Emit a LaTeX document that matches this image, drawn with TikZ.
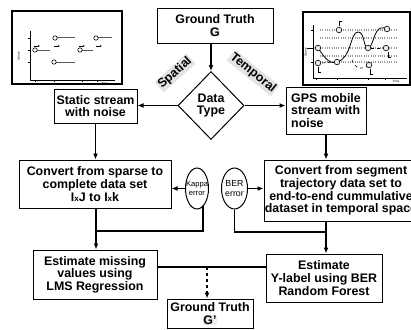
\documentclass[tikz,border=0pt]{standalone}
\usepackage{fontspec}
\setmainfont{Liberation Sans}
\usetikzlibrary{arrows.meta,shapes.geometric,calc}
\newcommand\flowfont{\fontsize{12.4}{12.6}\selectfont\bfseries}
\newcommand\tinyfont{\fontsize{3}{3}\selectfont}
\newcommand\hlmark[1]{{\setlength\fboxsep{0.3pt}\colorbox{gray!14}{#1}}}
\newcommand\smx{{\fontsize{8}{8}\selectfont x}}
\tikzset{
  box/.style={draw, line width=1pt, fill=white, align=center, font=\flowfont, inner sep=0pt},
  dia/.style={draw, diamond, line width=1pt, fill=white, align=center, font=\flowfont,
    inner sep=0pt, minimum width=66, minimum height=68},
  errell/.style={draw, ellipse, line width=1pt, inner sep=0pt, minimum width=23, minimum height=41},
  tag/.style={fill=gray!22, inner sep=1pt, font=\flowfont},
  arr/.style={line width=1.4pt, -{Latex[length=6pt,width=5pt]}},
  link/.style={line width=1.4pt},
  frame/.style={line width=2pt},
  axis/.style={line width=0.6pt},
  dot/.style={draw=black, fill=white, line width=0.6pt},
  seg/.style={gray!70!black, line width=1pt},
  small arrow/.style={line width=0.5pt, -{Latex[length=2pt,width=1.8pt]}},
  grain/.style={gray!80, line width=1.3pt, dash pattern=on 0.9pt off 1.4pt},
}
\begin{document}
\begin{tikzpicture}[x=1pt,y=-1pt]
\useasboundingbox (0,0) rectangle (411,329);
\clip (0,0) rectangle (411,329);

% ---- spatial stream sketch (top left) ----
\draw[frame] (12,11) rectangle (122,84);
\draw[axis] (30,31) -- (30,80) -- (115,80);
\foreach \yy in {38,50,62} \draw[axis] (28,\yy) -- (30,\yy);
\foreach \xx in {35,54,82,97} \draw[axis] (\xx,80) -- (\xx,82);
\node[font=\tinyfont, rotate=90] at (19,56) {Space};
\node[font=\tinyfont] at (105,83) {Time};
\draw[seg] (57,38) -- (75,38);
\draw[seg] (98,38) -- (112,38);
\draw[seg] (37,50) -- (50,50);
\draw[seg] (82,50) -- (93,50);
\draw[seg] (56,62) -- (75,62);
\foreach \p in {(55,38),(96,38),(35,50),(80,50),(54,62)} \draw[dot] \p circle (2.2);
\foreach \xx in {34,54,79,96} \draw[small arrow] (\xx,46) -- ++(6,0);

% ---- temporal stream sketch (top right) ----
\draw[frame] (303,12) rectangle (410,85);
\draw[axis] (313,25) -- (313,78) -- (407,78);
\foreach \xx in {316,337,368,385} \draw[axis] (\xx,78) -- (\xx,80);
\foreach \yy in {30,62} \draw[axis] (311,\yy) -- (313,\yy);
\node[font=\tinyfont, rotate=90] at (306,52) {Space};
\node[font=\tinyfont] at (396,81) {Time};
\foreach \yy in {30,38,48,56,62} \draw[grain] (320,\yy) -- (397,\yy);
\draw[line width=0.8pt] (318,48) .. controls (326,60) and (330,64) .. (337,62)
  .. controls (352,58) and (350,32) .. (358,32)
  .. controls (365,32) and (363,48) .. (368,48)
  .. controls (373,48) and (374,29) .. (381,28)
  .. controls (384,27) and (386,28) .. (387,29);
\draw[line width=0.6pt, dashed] (322,63) -- (334,62);
\draw[line width=0.6pt, dashed] (352,60) .. controls (356,70) and (362,70) .. (369,65);
\draw[line width=0.6pt, dashed] (371,48) -- (383,48);
\draw[small arrow] (307,48) -- (315,48);
\foreach \p in {(318,48),(318,63),(339,30),(337,62),(368,48),(387,29),(386,48),(369,65)}
  \draw[dot, fill=gray!15] \p circle (2.8);
\foreach \p/\d in {(318,67)/1,(339,26)/-1,(388,52)/1,(370,69)/1}
  \draw[line width=0.6pt] \p -- ++(0,\d*5) -- ++(3,0);

% ---- flow chart ----
\node[box, minimum width=116, minimum height=34] (gt) at (215,26) {Ground Truth\\\hlmark{G}};
\node[dia] (dt) at (211,105.5) {Data\\Type};
\node[box, minimum width=83, minimum height=34] (static) at (95.5,106) {Static stream\\with noise};
\node[box, minimum width=80, minimum height=47, align=left] (gps) at (326,110.5) {GPS mobile\\stream with\\noise};
\node[box, minimum width=152, minimum height=48] (sparse) at (95,184)
  {Convert from sparse to\\complete data set\\I\smx J to I\smx k};
\node[box, minimum width=154, minimum height=61] (segbox) at (341,190.5)
  {Convert from segment\\trajectory data set to\\end-to-end cummulative\\dataset in temporal space};
\node[errell] (kappa) at (197,188.5) {};
\node[font=\fontsize{7.6}{8.6}\selectfont, align=center] at (kappa) {Kappa\\error};
\node[errell, minimum width=26] (ber) at (234.5,188.5) {};
\node[font=\fontsize{8.8}{10}\selectfont, align=center] at (ber) {BER\\error};
\node[box, minimum width=124, minimum height=49] (miss) at (95,274.5)
  {Estimate missing\\values using\\LMS Regression};
\node[box, minimum width=116, minimum height=48] (ylab) at (324,278)
  {Estimate\\Y-label using BER\\Random Forest};
\node[box, minimum width=86, minimum height=29] (gp) at (210,313.5) {Ground Truth\\\hlmark{G'}};

\node[tag, rotate=42] (spatial) at (175,73) {Spatial};
\node[tag, rotate=-39] (temporal) at (253,73) {Temporal};

% ---- connectors ----
\draw[arr] (gt.south -| dt.north) -- (dt.north);
\draw[arr] (dt.west) -- (dt.west -| static.east);
\draw[arr] (dt.east) -- (dt.east -| gps.west);
\draw[arr] (static.south) -- (static.south |- sparse.north);
\draw[arr] (gps.south) -- (gps.south |- segbox.north);
\draw[arr] (kappa.west) -- (kappa.west -| sparse.east);
\draw[arr] (ber.east) -- (ber.east -| segbox.west);

\coordinate (jl) at (96,231);
\coordinate (jr) at (326,232);
\coordinate (hl) at (0,267);
\coordinate (dl) at (207,267);
\draw[arr] (sparse.south -| jl) -- (jl |- miss.north);
\draw[link] (kappa.-71) |- (jl);
\draw[arr] (jr |- segbox.south) -- (jr |- ylab.north);
\draw[link] (ber.south) |- (jr);
\draw[link] (miss.east |- hl) -- (ylab.west |- hl);
\draw[arr, dashed, line width=1.2pt] (dl) -- (dl |- gp.north);
\end{tikzpicture}
\end{document}
